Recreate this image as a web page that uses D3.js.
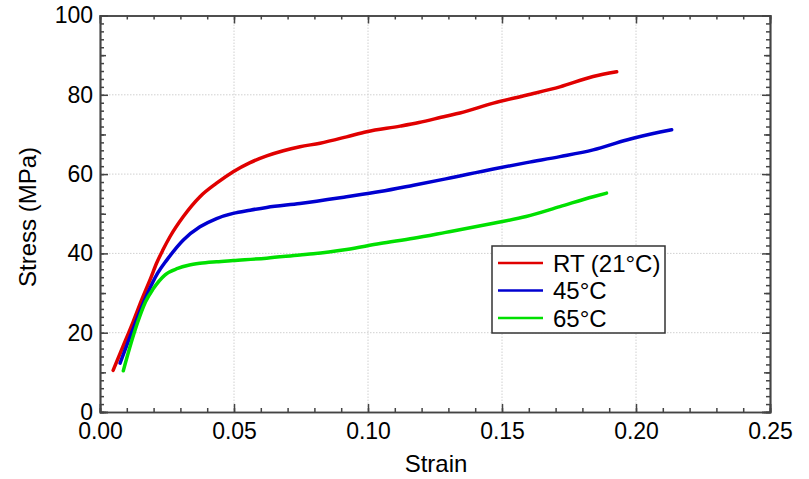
<!DOCTYPE html>
<html>
<head>
<meta charset="utf-8">
<script src="https://cdn.jsdelivr.net/npm/d3@7"></script>
<style>
  body { margin: 0; background: #fff; }
  text { font-family: "Liberation Sans", Arial, sans-serif; fill: #000; }
</style>
</head>
<body>
<div id="chart"></div>
<script>
// data
var rtStrain = [0.0049, 0.0085, 0.0124, 0.0155, 0.0190, 0.0211, 0.0235, 0.0261, 0.0311, 0.0373, 0.0435, 0.0497, 0.0560, 0.0622, 0.0684, 0.0746, 0.0821, 0.0920, 0.0995, 0.1120, 0.1190, 0.1290, 0.1343, 0.1468, 0.1590, 0.1716, 0.1840, 0.1928];
var rtStress = [10.5, 16.4, 22.8, 28.2, 33.9, 37.5, 40.9, 44.2, 49.3, 54.3, 57.7, 60.6, 62.9, 64.6, 65.9, 66.9, 67.8, 69.4, 70.7, 72.1, 73.0, 74.6, 75.4, 77.9, 79.9, 82.0, 84.6, 85.8];

var t45Strain = [0.0075, 0.0118, 0.0178, 0.0215, 0.0249, 0.0311, 0.0373, 0.0435, 0.0497, 0.0560, 0.0622, 0.0746, 0.0920, 0.1045, 0.1170, 0.1290, 0.1468, 0.1592, 0.1716, 0.1840, 0.1965, 0.2090, 0.2133];
var t45Stress = [12.3, 20.0, 30.0, 35.0, 38.3, 43.4, 46.7, 48.8, 50.1, 50.9, 51.6, 52.6, 54.3, 55.6, 57.2, 58.8, 61.3, 62.9, 64.4, 66.1, 68.6, 70.6, 71.2];

var t65Strain = [0.0087, 0.0110, 0.0140, 0.0170, 0.0198, 0.0243, 0.0290, 0.0330, 0.0373, 0.0435, 0.0497, 0.0622, 0.0746, 0.0796, 0.0920, 0.1045, 0.1170, 0.1290, 0.1468, 0.1590, 0.1716, 0.1840, 0.1890];
var t65Stress = [10.4, 16.0, 22.5, 27.8, 31.0, 34.6, 36.2, 37.0, 37.5, 37.9, 38.2, 38.8, 39.6, 39.9, 41.0, 42.5, 43.8, 45.3, 47.6, 49.3, 51.8, 54.3, 55.2];

var seriesNames = ["RT (21°C)", "45°C", "65°C"];
var seriesColors = ["#e00000", "#0000d0", "#00e000"];

var xTicks = [0, 0.05, 0.10, 0.15, 0.20, 0.25];
var yTicks = [0, 20, 40, 60, 80, 100];

var svgWidth = 809;
var svgHeight = 479;
var margin = { top: 15.5, right: 39, bottom: 67, left: 100 };
var width = svgWidth - margin.left - margin.right;
var height = svgHeight - margin.top - margin.bottom;

var svg = d3.select("#chart")
  .append("svg")
  .attr("width", svgWidth)
  .attr("height", svgHeight);

var chartGroup = svg.append("g")
  .attr("transform", `translate(${margin.left}, ${margin.top})`);

var x = d3.scaleLinear().domain([0, 0.25]).range([0, width]);
var y = d3.scaleLinear().domain([0, 100]).range([height, 0]);

// dotted grid
chartGroup.append("g")
  .selectAll("line")
  .data(xTicks.slice(1, -1))
  .enter().append("line")
  .attr("x1", d => x(d)).attr("x2", d => x(d))
  .attr("y1", 0).attr("y2", height)
  .attr("stroke", "#d0d0d0").attr("stroke-dasharray", "1.5,1.5");

chartGroup.append("g")
  .selectAll("line")
  .data(yTicks.slice(1, -1))
  .enter().append("line")
  .attr("y1", d => y(d)).attr("y2", d => y(d))
  .attr("x1", 0).attr("x2", width)
  .attr("stroke", "#d0d0d0").attr("stroke-dasharray", "1.5,1.5");

// axes with inward ticks on all four sides
var xMinor = d3.range(0, 0.2501, 0.01);
var yMinor = d3.range(0, 100.01, 2);
var yMid = d3.range(10, 100, 20);

function styleAxis(g) {
  g.selectAll("path").attr("stroke", "#444").attr("stroke-width", 1.5);
  g.selectAll("line").attr("stroke", "#444").attr("stroke-width", 1.5);
  g.selectAll("text").style("font-size", "23px").attr("fill", "#000")
    .style("font-family", "'Liberation Sans', Arial, sans-serif");
}

chartGroup.append("g")
  .attr("transform", `translate(0, ${height})`)
  .call(d3.axisBottom(x).tickValues(xMinor).tickSize(-4).tickFormat(""))
  .call(styleAxis);
chartGroup.append("g")
  .attr("transform", `translate(0, ${height})`)
  .call(d3.axisBottom(x).tickValues(xTicks).tickSize(-8).tickPadding(11).tickFormat(d3.format(".2f")))
  .call(styleAxis);

chartGroup.append("g")
  .call(d3.axisTop(x).tickValues(xMinor).tickSize(-4).tickFormat(""))
  .call(styleAxis);
chartGroup.append("g")
  .call(d3.axisTop(x).tickValues(xTicks).tickSize(-8).tickFormat(""))
  .call(styleAxis);

chartGroup.append("g")
  .call(d3.axisLeft(y).tickValues(yMinor).tickSize(-4).tickFormat(""))
  .call(styleAxis);
chartGroup.append("g")
  .call(d3.axisLeft(y).tickValues(yMid).tickSize(-6).tickFormat(""))
  .call(styleAxis);
chartGroup.append("g")
  .call(d3.axisLeft(y).tickValues(yTicks).tickSize(-8).tickPadding(7))
  .call(styleAxis);

chartGroup.append("g")
  .attr("transform", `translate(${width}, 0)`)
  .call(d3.axisRight(y).tickValues(yMinor).tickSize(-4).tickFormat(""))
  .call(styleAxis);
chartGroup.append("g")
  .attr("transform", `translate(${width}, 0)`)
  .call(d3.axisRight(y).tickValues(yMid).tickSize(-6).tickFormat(""))
  .call(styleAxis);
chartGroup.append("g")
  .attr("transform", `translate(${width}, 0)`)
  .call(d3.axisRight(y).tickValues(yTicks).tickSize(-8).tickFormat(""))
  .call(styleAxis);

// curves
var seriesData = [
  d3.zip(rtStrain, rtStress),
  d3.zip(t45Strain, t45Stress),
  d3.zip(t65Strain, t65Stress)
];

var line = d3.line()
  .x(d => x(d[0]))
  .y(d => y(d[1]))
  .curve(d3.curveMonotoneX);

chartGroup.selectAll(".curve")
  .data(seriesData)
  .enter()
  .append("path")
  .attr("class", "curve")
  .attr("d", line)
  .attr("fill", "none")
  .attr("stroke", (d, i) => seriesColors[i])
  .attr("stroke-width", 3.5)
  .attr("stroke-linecap", "round")
  .attr("stroke-linejoin", "round");

// legend
var legend = svg.append("g").attr("transform", "translate(492, 246)");
legend.append("rect")
  .attr("width", 173).attr("height", 87)
  .attr("fill", "#fff").attr("stroke", "#333").attr("stroke-width", 1.5);

var items = legend.selectAll(".item")
  .data(seriesNames)
  .enter().append("g")
  .attr("transform", (d, i) => `translate(0, ${17 + i * 27.5})`);
items.append("line")
  .attr("x1", 6).attr("x2", 51)
  .attr("stroke", (d, i) => seriesColors[i])
  .attr("stroke-width", 2.5);
items.append("text")
  .attr("x", 61).attr("y", 8.5)
  .style("font-size", "24px")
  .text(d => d);

// axis titles
svg.append("text")
  .attr("x", 436).attr("y", 472)
  .attr("text-anchor", "middle")
  .style("font-size", "24px")
  .text("Strain");

svg.append("text")
  .attr("transform", "translate(36, 217) rotate(-90)")
  .attr("text-anchor", "middle")
  .style("font-size", "24px")
  .text("Stress (MPa)");
</script>
</body>
</html>
